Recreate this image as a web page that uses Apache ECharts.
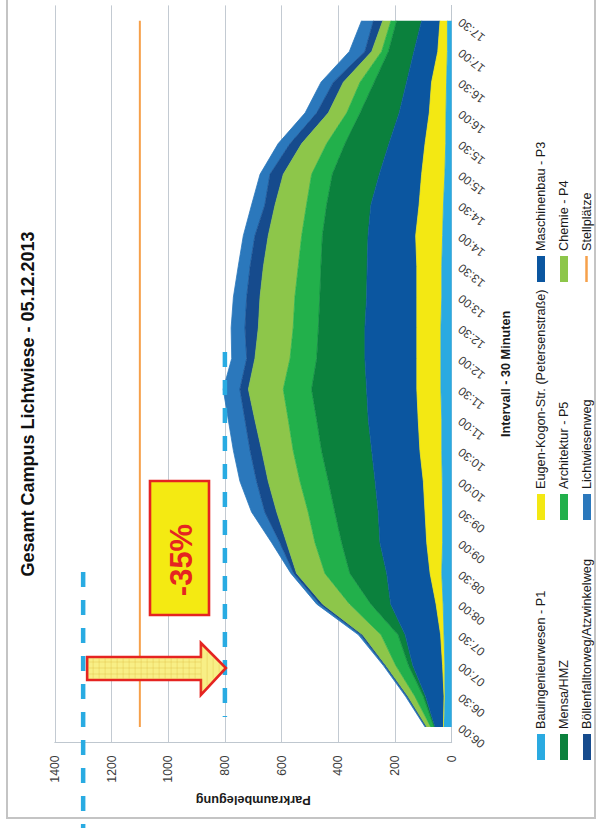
<!DOCTYPE html>
<html>
<head>
<meta charset="utf-8">
<script src="https://cdn.jsdelivr.net/npm/echarts@6/dist/echarts.min.js"></script>
<style>
  html, body { margin: 0; padding: 0; background: #fff; overflow: hidden; width: 600px; height: 834px; }
  /* the chart is laid out landscape and turned a quarter turn counter-clockwise */
  #chart { position: absolute; left: 0; top: 0; width: 834px; height: 600px;
           transform-origin: 0 0; transform: translate(0, 834px) rotate(-90deg); }
</style>
</head>
<body>
<div id="chart"></div>
<script>
// half-hour intervals
const times = ['06:00','06:30','07:00','07:30','08:00','08:30','09:00','09:30','10:00','10:30','11:00','11:30',
               '12:00','12:30','13:00','13:30','14:00','14:30','15:00','15:30','16:00','16:30','17:00','17:30'];

// occupied spaces per car park (stacked from the axis outwards)
const bauingenieurwesenP1 = [28,24,24,27,30,35,32,32,33,35,35,38,38,38,35,35,32,29,24,21,20,18,15,15];
const eugenKogonStr       = [1,3,8,12,25,41,56,62,67,77,83,85,85,85,88,88,95,86,82,73,59,53,34,26];
const maschinenbauP3      = [30,65,105,125,160,153,165,165,170,170,176,177,183,183,177,175,168,170,149,127,106,88,84,65];
const mensaHMZ            = [3,8,15,25,70,130,135,153,165,177,182,194,170,164,165,163,161,156,166,155,138,114,90,88];
const architekturP5       = [12,30,45,60,75,88,94,94,100,100,100,100,94,89,88,80,73,71,73,65,47,50,24,20];
const chemieP4            = [15,25,35,65,95,100,100,111,112,111,118,123,124,123,123,123,118,111,100,88,65,59,35,29];
const boellenfalltorweg   = [2,3,4,7,10,10,24,42,41,41,35,30,29,47,47,47,47,36,47,41,41,35,24,33];
const lichtwiesenweg      = [3,5,5,8,11,10,29,47,59,59,59,59,53,49,47,42,41,47,35,42,41,44,55,42];

// total number of parking spaces
const stellplaetze = [1100,1100,1100,1100,1100,1100,1100,1100,1100,1100,1100,1100,
                      1100,1100,1100,1100,1100,1100,1100,1100,1100,1100,1100,1100];

// value axis ticks
const valueTicks = { min: 0, max: 1400, step: 200 };

// peak demand before / after, marked with dashed lines
const peakBefore = 1300;
const peakAfter = 800;
const reductionLabel = '-35%';

const FONT = '"Liberation Sans", Arial, sans-serif';

const layers = [
  { name: 'Bauingenieurwesen - P1',            data: bauingenieurwesenP1, color: '#2AAAE1' },
  { name: 'Eugen-Kogon-Str. (Petersenstraße)', data: eugenKogonStr,       color: '#F3E813' },
  { name: 'Maschinenbau - P3',                 data: maschinenbauP3,      color: '#0B56A0' },
  { name: 'Mensa/HMZ',                         data: mensaHMZ,            color: '#0B813D' },
  { name: 'Architektur - P5',                  data: architekturP5,       color: '#22B04B' },
  { name: 'Chemie - P4',                       data: chemieP4,            color: '#8DC64A' },
  { name: 'Böllenfalltorweg/Atzwinkelweg',     data: boellenfalltorweg,   color: '#164B8D' },
  { name: 'Lichtwiesenweg',                    data: lichtwiesenweg,      color: '#2B78BC' }
];

const series = layers.map(l => ({
  type: 'line', name: l.name, data: l.data, stack: 'belegung',
  symbol: 'none', showSymbol: false, silent: true,
  lineStyle: { width: 0.8, color: l.color },
  itemStyle: { color: l.color },
  areaStyle: { color: l.color, opacity: 1 },
  emphasis: { disabled: true }
}));
series.push({
  type: 'line', name: 'Stellplätze', data: stellplaetze,
  symbol: 'none', showSymbol: false, silent: true,
  lineStyle: { width: 2, color: '#F6A04A' },
  itemStyle: { color: '#F6A04A' },
  emphasis: { disabled: true }
});

const legendBase = {
  orient: 'vertical', icon: 'rect', itemWidth: 26, itemHeight: 8, itemGap: 10,
  padding: 0, selectedMode: false,
  textStyle: { fontSize: 12.7, color: '#1a1a1a', fontFamily: FONT }
};

const chart = echarts.init(document.getElementById('chart'), null, { renderer: 'svg' });
chart.setOption({
  animation: false,
  backgroundColor: '#ffffff',
  textStyle: { fontFamily: FONT },
  grid: { left: 91.7, right: 5.4, top: 54.8, bottom: 148.3, outerBoundsMode: 'none' },
  xAxis: {
    type: 'category', data: times, boundaryGap: true,
    name: 'Intervall - 30 Minuten', nameLocation: 'middle', nameGap: 48,
    nameTextStyle: { fontSize: 12.7, fontWeight: 'bold', color: '#1a1a1a', fontFamily: FONT },
    axisLine: { show: true, lineStyle: { color: '#BFC7CF', width: 1 } },
    axisTick: { show: false },
    axisLabel: { interval: 0, rotate: 52, fontSize: 12, color: '#3a3a3a', margin: 8, fontFamily: FONT },
    splitLine: { show: false }
  },
  yAxis: {
    type: 'value', min: valueTicks.min, max: valueTicks.max, interval: valueTicks.step,
    name: 'Parkraumbelegung', nameLocation: 'middle', nameRotate: 90, nameGap: 42,
    nameTextStyle: { fontSize: 12.7, fontWeight: 'bold', color: '#1a1a1a', fontFamily: FONT },
    axisLine: { show: true, lineStyle: { color: '#BFC7CF', width: 1 } },
    axisTick: { show: false },
    axisLabel: { fontSize: 12.3, color: '#3a3a3a', margin: 13, fontFamily: FONT,
                 formatter: value => String(value) },
    splitLine: { show: true, lineStyle: { color: '#C3CAD2', width: 1 } }
  },
  legend: [
    Object.assign({}, legendBase, { left: 74, top: 534.5,
      data: ['Bauingenieurwesen - P1', 'Mensa/HMZ', 'Böllenfalltorweg/Atzwinkelweg'] }),
    Object.assign({}, legendBase, { left: 314, top: 534.5,
      data: ['Eugen-Kogon-Str. (Petersenstraße)', 'Architektur - P5', 'Lichtwiesenweg'] }),
    Object.assign({}, legendBase, { left: 552, top: 534.5,
      data: ['Maschinenbau - P3', 'Chemie - P4'] }),
    Object.assign({}, legendBase, { left: 552, top: 580, itemHeight: 2.5,
      data: ['Stellplätze'] })
  ],
  series: series
});

// annotations: frame, title, dashed peak lines, arrow and reduction box
const vOf = val => chart.convertToPixel({ yAxisIndex: 0 }, val);
const vBefore = vOf(peakBefore);
const vAfter = vOf(peakAfter);

const red = '#E52421';
const arrowTail = vBefore + 4;
const arrowTip = vAfter + 1;
const arrowBase = arrowTip - 25;
const shaftA = 154, shaftB = 177, headA = 139, headB = 191, axisU = 166;

const graphics = [
  { type: 'rect', silent: true, shape: { x: 16, y: 7, width: 840, height: 588 },
    style: { fill: 'none', stroke: '#C4C4C4', lineWidth: 2 } },
  { type: 'text', silent: true, x: 430, y: 28,
    style: { text: 'Gesamt Campus Lichtwiese - 05.12.2013', fontSize: 18, fontWeight: 'bold',
             fontFamily: FONT, fill: '#111', align: 'center', verticalAlign: 'middle' } },
  { type: 'line', silent: true, shape: { x1: 262, y1: vBefore, x2: 6, y2: vBefore },
    style: { stroke: '#29ABE2', lineWidth: 4.5, lineDash: [15, 13] }, z: 100 },
  { type: 'line', silent: true, shape: { x1: 482, y1: vAfter, x2: 117, y2: vAfter },
    style: { stroke: '#29ABE2', lineWidth: 4.5, lineDash: [15, 13] }, z: 100 },
  { type: 'polygon', silent: true, z: 101,
    shape: { points: [[shaftB, arrowTail], [shaftB, arrowBase], [headB, arrowBase], [axisU, arrowTip],
                      [headA, arrowBase], [shaftA, arrowBase], [shaftA, arrowTail]] },
    style: { fill: '#F8EF86', stroke: red, lineWidth: 2.6, lineJoin: 'miter' } }
];

// fine grid texture inside the arrow
const gridStroke = { stroke: 'rgba(214,170,40,0.45)', lineWidth: 0.6 };
for (let u = shaftA + 6; u < shaftB - 1; u += 6) {
  graphics.push({ type: 'line', silent: true, z: 102,
    shape: { x1: u, y1: arrowTail + 1.5, x2: u, y2: arrowBase }, style: gridStroke });
}
for (let v = arrowTail + 6; v < arrowBase + 22; v += 6) {
  let a = shaftA + 1.5, b = shaftB - 1.5;
  if (v > arrowBase) {
    const t = (v - arrowBase) / (arrowTip - arrowBase);
    a = headA + (axisU - headA) * t + 3;
    b = headB - (headB - axisU) * t - 3;
  }
  if (b > a) {
    graphics.push({ type: 'line', silent: true, z: 102,
      shape: { x1: a, y1: v, x2: b, y2: v }, style: gridStroke });
  }
}

graphics.push(
  { type: 'rect', silent: true, z: 101, shape: { x: 219, y: 150, width: 134, height: 59 },
    style: { fill: '#F4EA12', stroke: red, lineWidth: 2.6 } },
  { type: 'text', silent: true, z: 102, x: 274, y: 181,
    style: { text: reductionLabel, fontSize: 31, fontWeight: 'bold', fontFamily: FONT,
             fill: red, align: 'center', verticalAlign: 'middle' } }
);

chart.setOption({ graphic: graphics });
</script>
</body>
</html>
